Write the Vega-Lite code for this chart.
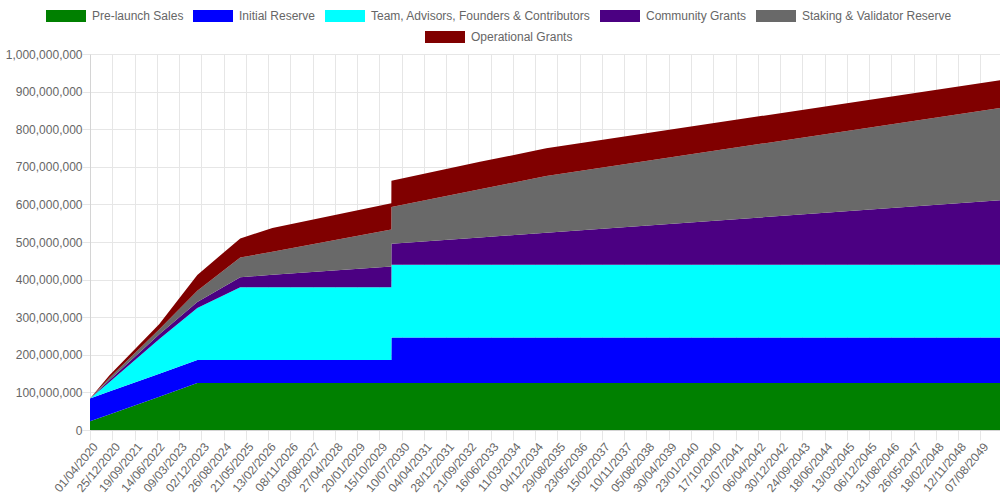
{
  "$schema": "https://vega.github.io/schema/vega-lite/v6.json",
  "description": "Token release schedule by allocation (stacked)",
  "width": 910,
  "height": 376,
  "autosize": {"type": "none"},
  "padding": {"left": 90, "top": 54, "right": 0, "bottom": 70},
  "background": "white",
  "data": {
    "values": [
      {"date": "2020-04-01", "series": "Pre-launch Sales", "tokens": 23000000},
      {"date": "2020-04-01", "series": "Initial Reserve", "tokens": 61000000},
      {"date": "2020-04-01", "series": "Team, Advisors, Founders & Contributors", "tokens": 0},
      {"date": "2020-04-01", "series": "Community Grants", "tokens": 0},
      {"date": "2020-04-01", "series": "Staking & Validator Reserve", "tokens": 0},
      {"date": "2020-04-01", "series": "Operational Grants", "tokens": 0},

      {"date": "2020-11-19", "series": "Pre-launch Sales", "tokens": 41300000},
      {"date": "2020-11-19", "series": "Initial Reserve", "tokens": 61000000},
      {"date": "2020-11-19", "series": "Team, Advisors, Founders & Contributors", "tokens": 24800000},
      {"date": "2020-11-19", "series": "Community Grants", "tokens": 5000000},
      {"date": "2020-11-19", "series": "Staking & Validator Reserve", "tokens": 6000000},
      {"date": "2020-11-19", "series": "Operational Grants", "tokens": 7000000},

      {"date": "2022-07-15", "series": "Pre-launch Sales", "tokens": 88700000},
      {"date": "2022-07-15", "series": "Initial Reserve", "tokens": 61000000},
      {"date": "2022-07-15", "series": "Team, Advisors, Founders & Contributors", "tokens": 92000000},
      {"date": "2022-07-15", "series": "Community Grants", "tokens": 13000000},
      {"date": "2022-07-15", "series": "Staking & Validator Reserve", "tokens": 13000000},
      {"date": "2022-07-15", "series": "Operational Grants", "tokens": 14000000},

      {"date": "2023-10-15", "series": "Pre-launch Sales", "tokens": 125000000},
      {"date": "2023-10-15", "series": "Initial Reserve", "tokens": 61000000},
      {"date": "2023-10-15", "series": "Team, Advisors, Founders & Contributors", "tokens": 138500000},
      {"date": "2023-10-15", "series": "Community Grants", "tokens": 16000000},
      {"date": "2023-10-15", "series": "Staking & Validator Reserve", "tokens": 30000000},
      {"date": "2023-10-15", "series": "Operational Grants", "tokens": 42000000},

      {"date": "2025-03-15", "series": "Pre-launch Sales", "tokens": 125000000},
      {"date": "2025-03-15", "series": "Initial Reserve", "tokens": 61000000},
      {"date": "2025-03-15", "series": "Team, Advisors, Founders & Contributors", "tokens": 193500000},
      {"date": "2025-03-15", "series": "Community Grants", "tokens": 27000000},
      {"date": "2025-03-15", "series": "Staking & Validator Reserve", "tokens": 52000000},
      {"date": "2025-03-15", "series": "Operational Grants", "tokens": 51000000},

      {"date": "2026-04-06", "series": "Pre-launch Sales", "tokens": 125000000},
      {"date": "2026-04-06", "series": "Initial Reserve", "tokens": 61000000},
      {"date": "2026-04-06", "series": "Team, Advisors, Founders & Contributors", "tokens": 193500000},
      {"date": "2026-04-06", "series": "Community Grants", "tokens": 33100000},
      {"date": "2026-04-06", "series": "Staking & Validator Reserve", "tokens": 61800000},
      {"date": "2026-04-06", "series": "Operational Grants", "tokens": 63000000},

      {"date": "2030-03-08", "series": "Pre-launch Sales", "tokens": 125000000},
      {"date": "2030-03-08", "series": "Initial Reserve", "tokens": 61000000},
      {"date": "2030-03-08", "series": "Team, Advisors, Founders & Contributors", "tokens": 193500000},
      {"date": "2030-03-08", "series": "Community Grants", "tokens": 55600000},
      {"date": "2030-03-08", "series": "Staking & Validator Reserve", "tokens": 98000000},
      {"date": "2030-03-08", "series": "Operational Grants", "tokens": 70000000},

      {"date": "2030-03-09", "series": "Pre-launch Sales", "tokens": 125000000},
      {"date": "2030-03-09", "series": "Initial Reserve", "tokens": 121000000},
      {"date": "2030-03-09", "series": "Team, Advisors, Founders & Contributors", "tokens": 193500000},
      {"date": "2030-03-09", "series": "Community Grants", "tokens": 55600000},
      {"date": "2030-03-09", "series": "Staking & Validator Reserve", "tokens": 98000000},
      {"date": "2030-03-09", "series": "Operational Grants", "tokens": 70000000},

      {"date": "2033-02-07", "series": "Pre-launch Sales", "tokens": 125000000},
      {"date": "2033-02-07", "series": "Initial Reserve", "tokens": 121000000},
      {"date": "2033-02-07", "series": "Team, Advisors, Founders & Contributors", "tokens": 193500000},
      {"date": "2033-02-07", "series": "Community Grants", "tokens": 72400000},
      {"date": "2033-02-07", "series": "Staking & Validator Reserve", "tokens": 128200000},
      {"date": "2033-02-07", "series": "Operational Grants", "tokens": 73000000},

      {"date": "2035-04-16", "series": "Pre-launch Sales", "tokens": 125000000},
      {"date": "2035-04-16", "series": "Initial Reserve", "tokens": 121000000},
      {"date": "2035-04-16", "series": "Team, Advisors, Founders & Contributors", "tokens": 193500000},
      {"date": "2035-04-16", "series": "Community Grants", "tokens": 85100000},
      {"date": "2035-04-16", "series": "Staking & Validator Reserve", "tokens": 151000000},
      {"date": "2035-04-16", "series": "Operational Grants", "tokens": 73500000},

      {"date": "2050-03-31", "series": "Pre-launch Sales", "tokens": 125000000},
      {"date": "2050-03-31", "series": "Initial Reserve", "tokens": 121000000},
      {"date": "2050-03-31", "series": "Team, Advisors, Founders & Contributors", "tokens": 193500000},
      {"date": "2050-03-31", "series": "Community Grants", "tokens": 171500000},
      {"date": "2050-03-31", "series": "Staking & Validator Reserve", "tokens": 245500000},
      {"date": "2050-03-31", "series": "Operational Grants", "tokens": 74000000}
    ]
  },
  "encoding": {
    "x": {
      "field": "date",
      "type": "temporal",
      "scale": {
        "type": "utc",
        "nice": false,
        "domain": [
          {"year": 2020, "month": 4, "date": 1, "utc": true},
          {"year": 2050, "month": 3, "date": 31, "utc": true}
        ]
      },
      "axis": {
        "title": null,
        "labelExpr": "utcFormat(datum.value, '%d/%m/%Y')",
        "labelAngle": -50,
        "labelAlign": "right",
        "labelBaseline": "middle",
        "labelOffset": 5,
        "labelPadding": 4,
        "tickSize": 10,
        "labelOverlap": false,
        "labelFlush": false,
        "values": [
          {"year": 2020, "month": 4, "date": 1, "utc": true},
          {"year": 2020, "month": 12, "date": 25, "utc": true},
          {"year": 2021, "month": 9, "date": 19, "utc": true},
          {"year": 2022, "month": 6, "date": 14, "utc": true},
          {"year": 2023, "month": 3, "date": 9, "utc": true},
          {"year": 2023, "month": 12, "date": 2, "utc": true},
          {"year": 2024, "month": 8, "date": 26, "utc": true},
          {"year": 2025, "month": 5, "date": 21, "utc": true},
          {"year": 2026, "month": 2, "date": 13, "utc": true},
          {"year": 2026, "month": 11, "date": 8, "utc": true},
          {"year": 2027, "month": 8, "date": 3, "utc": true},
          {"year": 2028, "month": 4, "date": 27, "utc": true},
          {"year": 2029, "month": 1, "date": 20, "utc": true},
          {"year": 2029, "month": 10, "date": 15, "utc": true},
          {"year": 2030, "month": 7, "date": 10, "utc": true},
          {"year": 2031, "month": 4, "date": 4, "utc": true},
          {"year": 2031, "month": 12, "date": 28, "utc": true},
          {"year": 2032, "month": 9, "date": 21, "utc": true},
          {"year": 2033, "month": 6, "date": 16, "utc": true},
          {"year": 2034, "month": 3, "date": 11, "utc": true},
          {"year": 2034, "month": 12, "date": 4, "utc": true},
          {"year": 2035, "month": 8, "date": 29, "utc": true},
          {"year": 2036, "month": 5, "date": 23, "utc": true},
          {"year": 2037, "month": 2, "date": 15, "utc": true},
          {"year": 2037, "month": 11, "date": 10, "utc": true},
          {"year": 2038, "month": 8, "date": 5, "utc": true},
          {"year": 2039, "month": 4, "date": 30, "utc": true},
          {"year": 2040, "month": 1, "date": 23, "utc": true},
          {"year": 2040, "month": 10, "date": 17, "utc": true},
          {"year": 2041, "month": 7, "date": 12, "utc": true},
          {"year": 2042, "month": 4, "date": 6, "utc": true},
          {"year": 2042, "month": 12, "date": 30, "utc": true},
          {"year": 2043, "month": 9, "date": 24, "utc": true},
          {"year": 2044, "month": 6, "date": 18, "utc": true},
          {"year": 2045, "month": 3, "date": 13, "utc": true},
          {"year": 2045, "month": 12, "date": 6, "utc": true},
          {"year": 2046, "month": 8, "date": 31, "utc": true},
          {"year": 2047, "month": 5, "date": 26, "utc": true},
          {"year": 2048, "month": 2, "date": 18, "utc": true},
          {"year": 2048, "month": 11, "date": 12, "utc": true},
          {"year": 2049, "month": 8, "date": 7, "utc": true}
        ]
      }
    },
    "y": {
      "field": "tokens",
      "type": "quantitative",
      "scale": {"domain": [0, 1000000000], "nice": false},
      "axis": {
        "title": null,
        "labelExpr": "format(datum.value, ',')",
        "values": [0, 100000000, 200000000, 300000000, 400000000, 500000000, 600000000, 700000000, 800000000, 900000000, 1000000000],
        "tickSize": 8,
        "labelPadding": 0
      }
    }
  },
  "layer": [
    {
      "transform": [
        {
          "calculate": "indexof(['Pre-launch Sales', 'Initial Reserve', 'Team, Advisors, Founders & Contributors', 'Community Grants', 'Staking & Validator Reserve', 'Operational Grants'], datum.series)",
          "as": "stackOrder"
        }
      ],
      "mark": {"type": "area", "interpolate": "linear"},
      "encoding": {
        "color": {
          "field": "series",
          "type": "nominal",
          "scale": {
            "domain": ["Pre-launch Sales", "Initial Reserve", "Team, Advisors, Founders & Contributors", "Community Grants", "Staking & Validator Reserve", "Operational Grants"],
            "range": ["#008000", "#0000ff", "#00ffff", "#4b0082", "#696969", "#800000"]
          },
          "legend": {
            "title": null,
            "orient": "none",
            "direction": "horizontal",
            "legendX": -44,
            "legendY": -44,
            "values": ["Pre-launch Sales", "Initial Reserve", "Team, Advisors, Founders & Contributors", "Community Grants", "Staking & Validator Reserve"]
          }
        },
        "order": {"field": "stackOrder", "type": "quantitative"}
      }
    },
    {
      "transform": [{"filter": {"field": "series", "equal": "Operational Grants"}}],
      "mark": {"type": "point", "size": 0, "filled": true},
      "encoding": {
        "fill": {
          "field": "series",
          "type": "nominal",
          "scale": {"domain": ["Operational Grants"], "range": ["#800000"]},
          "legend": {
            "title": null,
            "orient": "none",
            "direction": "horizontal",
            "legendX": 335,
            "legendY": -23
          }
        }
      }
    }
  ],
  "config": {
    "view": {"stroke": null},
    "font": "Liberation Sans",
    "axis": {
      "labelFont": "Liberation Sans",
      "labelFontSize": 12,
      "labelColor": "#666666",
      "gridColor": "#e6e6e6",
      "tickColor": "#e6e6e6",
      "domainColor": "#d4d4d4",
      "grid": true
    },
    "legend": {
      "labelFont": "Liberation Sans",
      "labelFontSize": 12,
      "labelColor": "#666666",
      "labelLimit": 400,
      "symbolType": "M-1,-1H5.667V1H-1Z",
      "symbolSize": 144,
      "symbolStrokeWidth": 0,
      "symbolOpacity": 1,
      "labelOffset": 34,
      "columnPadding": 9,
      "padding": 0
    }
  }
}
